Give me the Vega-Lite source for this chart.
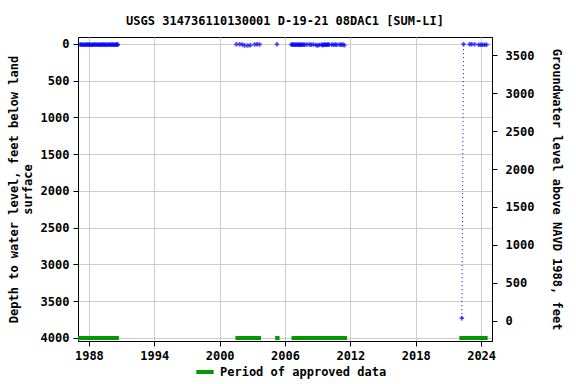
{
  "$schema": "https://vega.github.io/schema/vega-lite/v6.json",
  "width": 414,
  "height": 304,
  "autosize": {"type": "none"},
  "padding": {"left": 78, "top": 37, "right": 84, "bottom": 43},
  "title": {"text": "USGS 314736110130001 D-19-21 08DAC1 [SUM-LI]", "font": "DejaVu Sans Mono", "fontSize": 12, "fontWeight": "bold", "offset": 9, "anchor": "middle"},
  "config": {
    "view": {"stroke": "black", "strokeWidth": 1},
    "font": "DejaVu Sans Mono",
    "axis": {"labelFont": "DejaVu Sans Mono", "labelFontSize": 12, "labelFontWeight": "bold", "labelColor": "black", "titleFont": "DejaVu Sans Mono", "titleFontSize": 12, "titleFontWeight": "bold", "titleColor": "black", "tickColor": "black", "domainColor": "black", "gridColor": "#cccccc", "tickSize": 5, "titleLineHeight": 14, "labelOverlap": false}
  },
  "datasets": {
    "gw": [
      {"t": 1987.2, "d": 8}, {"t": 1987.3, "d": 10}, {"t": 1987.4, "d": 6}, {"t": 1987.5, "d": 12}, {"t": 1987.6, "d": 9},
      {"t": 1987.7, "d": 7}, {"t": 1987.8, "d": 11}, {"t": 1987.9, "d": 8}, {"t": 1988.0, "d": 10}, {"t": 1988.1, "d": 6},
      {"t": 1988.2, "d": 12}, {"t": 1988.3, "d": 9}, {"t": 1988.4, "d": 7}, {"t": 1988.5, "d": 11}, {"t": 1988.6, "d": 8},
      {"t": 1988.7, "d": 10}, {"t": 1988.8, "d": 6}, {"t": 1988.9, "d": 12}, {"t": 1989.0, "d": 9}, {"t": 1989.1, "d": 7},
      {"t": 1989.2, "d": 11}, {"t": 1989.3, "d": 8}, {"t": 1989.4, "d": 10}, {"t": 1989.5, "d": 6}, {"t": 1989.6, "d": 12},
      {"t": 1989.7, "d": 9}, {"t": 1989.8, "d": 7}, {"t": 1989.9, "d": 11}, {"t": 1990.0, "d": 8}, {"t": 1990.1, "d": 10},
      {"t": 1990.2, "d": 6}, {"t": 1990.3, "d": 12}, {"t": 1990.4, "d": 9}, {"t": 1990.5, "d": 7}, {"t": 1990.6, "d": 11},
      {"t": 1990.65, "d": 8},
      {"t": 2001.53, "d": 5}, {"t": 2001.83, "d": 5}, {"t": 2002.08, "d": 6}, {"t": 2002.29, "d": 20}, {"t": 2002.57, "d": 22},
      {"t": 2002.82, "d": 18}, {"t": 2003.21, "d": 6}, {"t": 2003.44, "d": 5}, {"t": 2003.67, "d": 6},
      {"t": 2005.26, "d": 5},
      {"t": 2006.58, "d": 8}, {"t": 2006.68, "d": 10}, {"t": 2006.78, "d": 7}, {"t": 2006.88, "d": 11}, {"t": 2006.98, "d": 9},
      {"t": 2007.08, "d": 8}, {"t": 2007.18, "d": 12}, {"t": 2007.28, "d": 7}, {"t": 2007.38, "d": 10}, {"t": 2007.48, "d": 9},
      {"t": 2007.58, "d": 11}, {"t": 2007.7, "d": 8}, {"t": 2007.8, "d": 10},
      {"t": 2008.0, "d": 7}, {"t": 2008.25, "d": 6}, {"t": 2008.4, "d": 9}, {"t": 2008.6, "d": 7},
      {"t": 2008.85, "d": 14}, {"t": 2009.0, "d": 20}, {"t": 2009.15, "d": 12},
      {"t": 2009.35, "d": 8}, {"t": 2009.45, "d": 18}, {"t": 2009.55, "d": 10}, {"t": 2009.65, "d": 7}, {"t": 2009.75, "d": 12},
      {"t": 2009.85, "d": 9}, {"t": 2009.95, "d": 6}, {"t": 2010.05, "d": 10},
      {"t": 2010.3, "d": 8}, {"t": 2010.45, "d": 12}, {"t": 2010.6, "d": 7}, {"t": 2010.75, "d": 9},
      {"t": 2011.0, "d": 8}, {"t": 2011.15, "d": 10}, {"t": 2011.3, "d": 7}, {"t": 2011.45, "d": 18},
      {"t": 2022.23, "d": 3730}, {"t": 2022.39, "d": 3},
      {"t": 2022.94, "d": 4}, {"t": 2023.13, "d": 5}, {"t": 2023.4, "d": 4},
      {"t": 2023.77, "d": 10}, {"t": 2023.95, "d": 11}, {"t": 2024.13, "d": 10}, {"t": 2024.32, "d": 11}, {"t": 2024.5, "d": 10}
    ],
    "gap": [
      {"t": 2022.23, "d": 3730}, {"t": 2022.39, "d": 3}
    ],
    "approved": [
      {"t": 1987.0, "t2": 1990.75, "d": 4000, "lab": "Period of approved data"},
      {"t": 2001.45, "t2": 2003.8, "d": 4000, "lab": "Period of approved data"},
      {"t": 2005.1, "t2": 2005.5, "d": 4000, "lab": "Period of approved data"},
      {"t": 2006.6, "t2": 2011.7, "d": 4000, "lab": "Period of approved data"},
      {"t": 2022.0, "t2": 2024.6, "d": 4000, "lab": "Period of approved data"}
    ],
    "right": [
      {"t": 2000, "lev": 0}, {"t": 2000, "lev": 3500}
    ]
  },
  "layer": [
    {
      "encoding": {
        "x": {"field": "t", "type": "quantitative", "scale": {"domain": [1987, 2025], "nice": false, "zero": false},
              "axis": {"values": [1988, 1994, 2000, 2006, 2012, 2018, 2024], "format": "d", "title": null, "grid": true, "labelPadding": 4}},
        "y": {"field": "d", "type": "quantitative",
              "scale": {"domain": [4041, -95], "nice": false, "zero": false},
              "axis": {"values": [0, 500, 1000, 1500, 2000, 2500, 3000, 3500, 4000], "format": "d", "title": ["Depth to water level, feet below land", "surface"], "grid": true, "titlePadding": 6, "labelPadding": 4}}
      },
      "layer": [
        {
          "data": {"name": "approved"},
          "mark": {"type": "rule", "strokeWidth": 4},
          "encoding": {
            "x2": {"field": "t2"},
            "color": {"field": "lab", "type": "nominal", "scale": {"range": ["#009900"]},
                      "legend": {"title": null, "orient": "none", "legendX": 116, "legendY": 324, "symbolType": "stroke", "symbolStrokeWidth": 4, "symbolSize": 300, "labelFont": "DejaVu Sans Mono", "labelFontSize": 12, "labelFontWeight": "bold", "labelColor": "black", "labelLimit": 300}}
          }
        },
        {
          "data": {"name": "gap"},
          "mark": {"type": "line", "color": "blue", "strokeWidth": 1, "strokeDash": [1, 3]},
          "encoding": {}
        },
        {
          "data": {"name": "gw"},
          "mark": {"type": "point", "shape": "cross", "color": "blue", "filled": true, "size": 20},
          "encoding": {}
        }
      ]
    },
    {
      "data": {"name": "right"},
      "mark": {"type": "point", "opacity": 0},
      "encoding": {
        "x": {"field": "t", "type": "quantitative"},
        "y": {"field": "lev", "type": "quantitative",
              "scale": {"domain": [-268, 3741], "nice": false, "zero": false},
              "axis": {"orient": "right", "values": [0, 500, 1000, 1500, 2000, 2500, 3000, 3500], "format": "d", "title": "Groundwater level above NAVD 1988, feet", "grid": false, "titlePadding": 16, "labelPadding": 8}}
      }
    }
  ],
  "resolve": {"scale": {"y": "independent"}}
}
